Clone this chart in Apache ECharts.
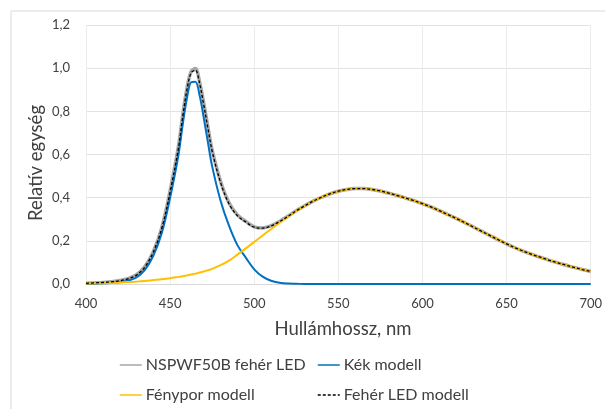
<!DOCTYPE html>
<html><head><meta charset="utf-8">
<script src="https://cdn.jsdelivr.net/npm/echarts@6/dist/echarts.min.js"></script>
<style>html,body{margin:0;padding:0;background:#fff}#c{width:605px;height:409px}</style>
</head><body><div id="c"></div>
<script>
// Wavelengths (nm)
const wavelengths = [400,405,410,415,420,425,430,435,440,445,450,455,457.5,460,462.5,465,467.5,470,472.5,475,480,485,490,495,500,505,510,515,520,525,
  530,535,540,545,550,555,560,565,570,575,580,585,590,595,600,605,610,615,620,625,630,635,640,645,650,655,660,665,670,675,680,685,690,695,700];
// Measured NSPWF50B white LED
const measured = [0.003,0.005,0.007,0.011,0.016,0.025,0.043,0.081,0.15,0.26,0.433,0.64,0.783,0.907,0.985,0.998,0.938,0.837,0.726,0.62,0.475,0.376,0.32,0.29,0.265,0.26,0.27,0.29,0.314,0.34,
  0.363,0.384,0.402,0.418,0.43,0.438,0.442,0.442,0.438,0.431,0.421,0.41,0.398,0.386,0.372,0.357,0.34,0.322,0.304,0.285,0.265,0.245,0.225,0.205,0.186,0.168,0.152,0.137,0.124,0.111,0.099,0.088,0.077,0.067,0.058];
// Blue model
const blue = [0.001,0.002,0.003,0.005,0.008,0.015,0.03,0.065,0.13,0.235,0.40,0.60,0.74,0.86,0.935,0.937,0.875,0.77,0.655,0.545,0.386,0.27,0.18,0.122,0.068,0.034,0.015,0.006,0.002,0.001,
  0,0,0,0,0,0,0,0,0,0,0,0,0,0,0,0,0,0,0,0,0,0,0,0,0,0,0,0,0,0,0,0,0,0,0];
// Phosphor model
const phosphor = [0.002,0.003,0.004,0.005,0.007,0.009,0.011,0.014,0.018,0.022,0.027,0.033,0.036,0.04,0.044,0.048,0.053,0.058,0.064,0.07,0.087,0.108,0.136,0.165,0.195,0.225,0.254,0.283,0.311,0.338,
  0.362,0.384,0.402,0.418,0.43,0.438,0.442,0.442,0.438,0.431,0.421,0.41,0.398,0.386,0.372,0.357,0.34,0.322,0.304,0.285,0.265,0.245,0.225,0.205,0.186,0.168,0.152,0.137,0.124,0.111,0.099,0.088,0.077,0.067,0.058];
// White LED model
const whiteModel = [0.003,0.005,0.007,0.01,0.015,0.024,0.041,0.079,0.148,0.257,0.427,0.633,0.776,0.9,0.979,0.99,0.93,0.83,0.72,0.615,0.47,0.372,0.316,0.287,0.263,0.259,0.269,0.289,0.313,0.339,
  0.362,0.384,0.402,0.418,0.43,0.438,0.442,0.442,0.438,0.431,0.421,0.41,0.398,0.386,0.372,0.357,0.34,0.322,0.304,0.285,0.265,0.245,0.225,0.205,0.186,0.168,0.152,0.137,0.124,0.111,0.099,0.088,0.077,0.067,0.058];
const seriesNames = ['NSPWF50B fehér LED','Kék modell','Fénypor modell','Fehér LED modell'];
const xTitle = 'Hullámhossz, nm';
const yTitle = 'Relatív egység';

const pairs = arr => wavelengths.map((w,i)=>[w,arr[i]]);
const FONT = 'Lato';
const TXT = '#404040';
const chart = echarts.init(document.getElementById('c'), null, {renderer:'canvas'});
const legendBase = {orient:'horizontal', itemWidth:22, itemHeight:14, itemGap:4, padding:0,
  textStyle:{fontFamily:FONT, fontSize:16, color:TXT, lineHeight:16, padding:[0,0,0,-1]},
  itemStyle:{opacity:0}, lineStyle:{width:1.5, opacity:1}};
chart.setOption({
  animation:false,
  graphic:[
    {type:'rect', shape:{x:11, y:11, width:700, height:500}, style:{fill:'none', stroke:'#d9d9d9', lineWidth:1}, z:-1, silent:true},
    {type:'text', x:343, y:329, style:{text:xTitle, fontFamily:FONT, fontSize:18.5, fill:TXT, align:'center', verticalAlign:'middle'}},
    {type:'text', x:36, y:163, rotation:Math.PI/2, style:{text:yTitle, fontFamily:FONT, fontSize:18.5, fill:TXT, align:'center', verticalAlign:'middle'}}
  ],
  grid:{left:86, right:12, top:25, bottom:125, containLabel:false},
  xAxis:{type:'value', min:400, max:700, interval:50,
    axisLine:{show:true, lineStyle:{color:'#d9d9d9'}}, axisTick:{show:false},
    axisLabel:{fontFamily:FONT, fontSize:13, color:TXT, margin:13},
    splitLine:{show:true, lineStyle:{color:'#ececec'}}},
  yAxis:{type:'value', min:0, max:1.2, interval:0.2,
    axisLine:{show:false}, axisTick:{show:false},
    axisLabel:{fontFamily:FONT, fontSize:13, color:TXT, margin:16, formatter:v=>v.toFixed(1).replace('.',',')},
    splitLine:{show:true, lineStyle:{color:'#e2e2e2'}}},
  legend:[
    Object.assign({}, legendBase, {data:[seriesNames[0]], left:119, top:357}),
    Object.assign({}, legendBase, {data:[seriesNames[1]], left:317, top:357}),
    Object.assign({}, legendBase, {data:[seriesNames[2]], left:119, top:387}),
    Object.assign({}, legendBase, {data:[seriesNames[3]], left:317, top:387})
  ],
  series:[
    {name:seriesNames[0], type:'line', data:pairs(measured), showSymbol:false, symbol:'none', smooth:0.35,
      lineStyle:{color:'#a6a6a6', width:3.5}, itemStyle:{color:'#a6a6a6'}, z:1},
    {name:seriesNames[1], type:'line', data:pairs(blue), showSymbol:false, symbol:'none', smooth:0.35,
      lineStyle:{color:'#0070c0', width:2}, itemStyle:{color:'#0070c0'}, z:2},
    {name:seriesNames[2], type:'line', data:pairs(phosphor), showSymbol:false, symbol:'none', smooth:0.35,
      lineStyle:{color:'#ffc000', width:2}, itemStyle:{color:'#ffc000'}, z:3},
    {name:seriesNames[3], type:'line', data:pairs(whiteModel), showSymbol:false, symbol:'none', smooth:0.35,
      lineStyle:{color:'#000000', width:1.3, type:[3,2]}, itemStyle:{color:'#000000'}, z:4}
  ]
});
</script></body></html>
